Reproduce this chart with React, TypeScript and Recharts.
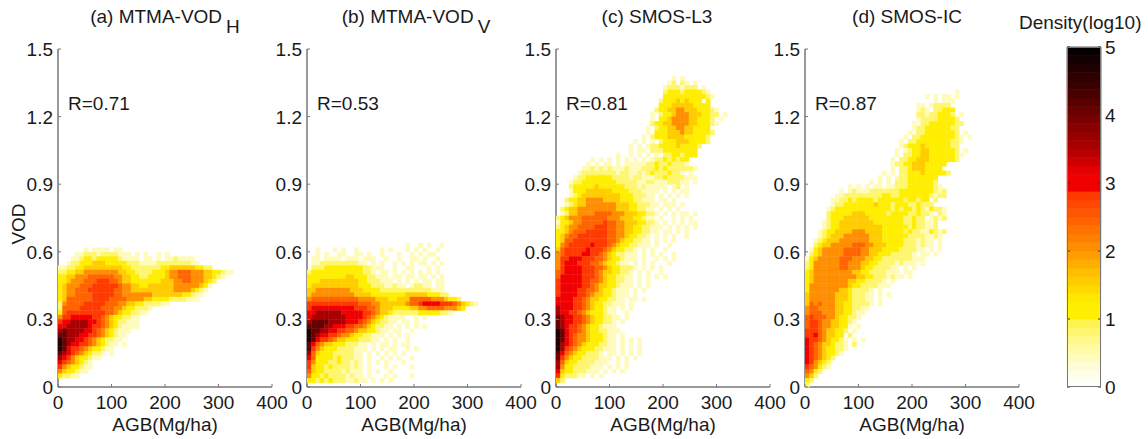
import { Bar, BarChart, Scatter, ScatterChart, XAxis, YAxis } from 'recharts'

// Density grid: one string per VOD row, top row first, last row is VOD 0-0.02.
// "12:345" means the row starts at AGB column 12. Columns are 8 Mg/ha wide.
const AGB_STEP = 8
const VOD_STEP = 0.02

const mtmaHRows = [
  '......1.1111.11',
  '....1122212222111.1.1..1.1',
  '...1123323333321111.11.1.1121111',
  '..1223334443333322211112222222211',
  '112233444444444332222222334444443322',
  '22334455555555443322223334556665554433211',
  '334455566666655443322333345566655544321',
  '3345556667776654433333334445566555432',
  '345556667777776554433444444555555431',
  '34556667777776655444444444455554321',
  '3455666677777665555555444444433211',
  '346666667777666655554433332222111',
  '25666677777666554433222211',
  '2666677777666554332221',
  '367777777776654332211',
  '5778888877654332211',
  '7889999887654322111',
  '8899999877654321111',
  '9a999988765432111',
  'aa99988776543211',
  'ba9988765432211',
  'ba988776543211.1',
  'ba87765433211',
  'a9876543221.1',
  '9875433211',
  '87654321',
  '75433211',
  '5433211',
  '32211',
  '',
  '',
]

const mtmaVRows = [
  '23:1..1.1..1',
  '..1...1.1..1.....1.1...1.1.1..1',
  '..1.1..11..11.1..1...1..1.1.11..',
  '.11.1111.111.111..1..1..11.1..1',
  '.1122222222211.1.1..1.1.1.11.1.1',
  '.22233333333322111..1..11...1.1',
  '2333333333333221.11.1.1.1.1.1.1',
  '3333333334433322111.11.11.11.1.1',
  '33344444444433222111.1.1.1.11.11',
  '34444444444433322211211.12211.11',
  '44555555554443333222222222222111',
  '455555555554444333333334444433322',
  '566666666666555544433444666665554332',
  '7777777777776665544444456678888777654321',
  '7888888888877766544433334455666655543',
  '8899999988888776544322222233333221',
  '89999999988887654321111..1.1',
  '9aaaa9999888765432211.11.1',
  'aaaa9988877665432211.1.1.1.1',
  'baa9988776654433211.11..1',
  'ba9887765543322111.1.1.1',
  'ba877654433322211.1.1..1',
  'a8654433322211.1.11.1.11',
  'a7543332222111.1.1.11..1.1',
  '9643332222211.1.1.1.1.1',
  '8633332322211.1..1.1.1..1',
  '7533322322121.1.1.1...1',
  '7433232222121.1...1.1...1',
  '6433222212111.1.1..1',
  '5332322221211.1...1.1...1',
  '33232322211211.1.1.1',
  '',
]

const smosL3Rows = [
  '27:1.1',
  '26:12.21.1',
  '25:12221222.1',
  '25:23332333321',
  '25:333333333321',
  '24:2333434333.3',
  '24:333444443333',
  '23:233445544433321',
  '22:1.23345554443322.1',
  '22:1.3345555443332.1',
  '22:2334455554433321',
  '21:1.2334455443333',
  '21:1.33344454433332',
  '20:1.23334444333332',
  '18:1.1.1.233344433332',
  '17:1.1.1223333433332',
  '17:1.11.22233333333',
  '14:1..1.1.1.1.22332333',
  '8:1.1.1.1.1.1.1.122323233',
  '7:1.1.11.1.111112232232221',
  '6:112121211121112223232222221',
  '5:1222222221221121232223221.1',
  '4:12233333322221221112232222111',
  '3:1223333333322222112211122211.1',
  '3:23333343333332221211111.12.1',
  '3:133344444433332221111.1.1.11',
  '3:12344444444433322211.1.1.1.1',
  '2:233445555444433322111.11.1',
  '2:1234455555554443322211.111.1',
  '1:2344555555555444332211.1.1.1.',
  '1:12445555666655544433221.1.1.11.1',
  '23455566666655544433211.1..1.1.1',
  '133455666667665544433221.1.1.1.11',
  '2345566667776655443322111.1.1.1.1',
  '334566677777665544332211.11.1.1',
  '3456677777776655433221.1.1.1..1',
  '3466777777776654332211.1.1.1',
  '3567777787776543322111.1..1',
  '4677777877765433221.1.1..1',
  '5677778877654322111.1.1.1..1',
  '5778887776654332111.1..1.1.1',
  '57888777665433211.1.1.1...1',
  '5788887776654332221.1.1.1',
  '678888777654433221.1.1..1',
  '688888777654332211.1.1.1.1',
  '788888776654332211.1.1',
  '788888776544332111.1.1',
  '78888776654332111.1.1',
  '78888776544332111.1',
  '8888776544332211.11.1',
  '8888776543322111.1',
  '98887765433211.1.1',
  '98877654333211..1',
  'a98877654332211.1',
  'a9887765433221.1',
  'a9877654332111',
  'ba8776543322111',
  'ba876554333211.1',
  'ba876554333211.1.1.1',
  'b9876543332211.1.1.1',
  'b9765433322111.1.1.1',
  'a8654332221.11.1.1.1',
  'a754332222111.1.1.1',
  '964332222111..1.1',
  '95332222111.1.1.1',
  '8433222111.1.1.1',
  '7322211.1.1',
  '42',
  '',
]

const smosIcRows = [
  '35:1',
  '28:1.1.11.1',
  '30:1.111',
  '26:11.12222',
  '26:121.22333',
  '26:221223332.1',
  '26:1222233332',
  '25:1.2233333322',
  '25:12233333322',
  '24:1.2233333332.1',
  '23:1.223333333321.1',
  '22:1.2233333333221',
  '22:12333433333322',
  '21:1.1233443333332.1',
  '21:1.22334433333321',
  '20:1.22334443333332',
  '20:1223344433333',
  '20:1.2234443333',
  '18:1.1.223334333332',
  '17:1.1.1223333333',
  '15:1.1.1.2223333332',
  '10:1.1.1.11.1122233333321',
  '8:1.12111222222233333333212',
  '7:11222222222332233333332122',
  '6:11223233332333333233233.2',
  '6:122333333343332333223222',
  '5:1233333333333332323323213221',
  '5:2333334443333323333223221.21',
  '5:23334444443333333322322.1212',
  '4:123344444444333333322322112',
  '4:123344444444443333332322112',
  '3:123344445554444333332322113212',
  '3:12344455555544433333322221121',
  '2:1234445555555444333332221211.1',
  '2:2344555556665544433332221211.1',
  '1:134555556666554443333222211.1.1',
  '1:2345555566665544333222221.11.1',
  '1345555566655544332222222111',
  '23555555665554433222212111.1',
  '2355555566555433222211.1.1',
  '3455555555544332222111.11',
  '34555555555544332221211.1',
  '3455555555443322221.1',
  '35555555554332222111',
  '3555555544322221.1',
  '4555555444322211.1.1',
  '4555555444322211.1',
  '4656555443322221.1',
  '566555544332211',
  '56665554433211',
  '6766655433221',
  '677655443321',
  '67765544331.1',
  '7776544332.1',
  '778654433.2',
  '8776543321.1.1',
  '8765443221.2',
  '8765433221',
  '876543321',
  '8765432',
  '875432',
  '765321',
  '6532',
  '542',
  '32',
  '2',
]

// log10 density for each character used in the rows above
const levelDensity: Record<string, number> = {
  '1': 0.45, '2': 0.8, '3': 1.15, '4': 1.55, '5': 2.0, '6': 2.4,
  '7': 2.75, '8': 3.1, '9': 3.6, a: 4.1, b: 4.7,
}

const bandColors = [
  '#FFFFFA', '#FFFEEA', '#FFFDD5', '#FFFBBC', '#FFFAA3', '#FFF88A', '#FFF670', '#FFF350',
  '#FFF000', '#FFEE00', '#FFE800', '#FFD800', '#FFCC00', '#FFBE00', '#FFAE00', '#FF9E00',
  '#FF8E00', '#FF8000', '#FF7200', '#FF6400', '#FF5600', '#FF4800', '#FF3A00', '#F20000',
  '#F00000', '#E60000', '#CC0000', '#B80000', '#A80000', '#980000', '#880000', '#780000',
  '#680000', '#580000', '#480000', '#3A0000', '#2E0000', '#220000', '#140000', '#060000',
]

const agbTicks = [0, 100, 200, 300, 400]
const vodTicks = [0, 0.3, 0.6, 0.9, 1.2, 1.5]
const colorbarTicks = [0, 1, 2, 3, 4, 5]

const panels = [
  { title: '(a) MTMA-VOD', sub: 'H', r: 'R=0.71', rows: mtmaHRows, left: 58, titleShift: 0 },
  { title: '(b) MTMA-VOD', sub: 'V', r: 'R=0.53', rows: mtmaVRows, left: 307, titleShift: 2 },
  { title: '(c) SMOS-L3', sub: '', r: 'R=0.81', rows: smosL3Rows, left: 556, titleShift: -6 },
  { title: '(d) SMOS-IC', sub: '', r: 'R=0.87', rows: smosIcRows, left: 805, titleShift: -5 },
]

const FONT = '"Liberation Sans", Arial, sans-serif'
const FONT_SIZE = 19
const FRAME = '#777777'
const TEXT = '#1a1a1a'
const PLOT_W = 214
const PLOT_H = 338
const PLOT_TOP = 49
const Y_AXIS_W = 57
const X_AXIS_H = 52
const TOP_PAD = 12
const RIGHT_PAD = 25
const BAND = 5 / bandColors.length

function toCells(rows: string[]) {
  const cells: { agb: number; vod: number; density: number }[] = []
  rows.forEach((raw, i) => {
    const row = rows.length - 1 - i
    const parts = raw.split(':')
    const start = parts.length > 1 ? Number(parts[0]) : 0
    const levels = parts[parts.length - 1]
    for (let c = 0; c < levels.length; c++) {
      const density = levelDensity[levels[c]]
      if (density === undefined) continue
      cells.push({
        agb: (start + c + 0.5) * AGB_STEP,
        vod: (row + 0.5) * VOD_STEP,
        density,
      })
    }
  })
  return cells
}

function colorFor(density: number) {
  return bandColors[Math.min(bandColors.length - 1, Math.floor(density / BAND))]
}

const cellW = (AGB_STEP / 400) * PLOT_W
const cellH = (VOD_STEP / 1.5) * PLOT_H

const DensityCell = (props: any) => (
  <rect
    x={props.cx - cellW / 2}
    y={props.cy - cellH / 2}
    width={cellW + 0.4}
    height={cellH + 0.4}
    fill={colorFor(props.payload.density)}
  />
)

// MATLAB-style ticks point into the box, so they are drawn by the tick renderers
const BottomTick = ({ x, y, payload }: any) => (
  <g>
    <line x1={x} x2={x} y1={y} y2={y - 3} stroke={FRAME} />
    <text x={x} y={y + 22} textAnchor="middle" fontSize={FONT_SIZE} fontFamily={FONT} fill={TEXT}>
      {payload.value}
    </text>
  </g>
)
const TopTick = ({ x, y }: any) => <line x1={x} x2={x} y1={y} y2={y + 3} stroke={FRAME} />
const LeftTick = ({ x, y, payload }: any) => (
  <g>
    <line x1={x} x2={x + 3} y1={y} y2={y} stroke={FRAME} />
    <text x={x - 5} y={y + 7} textAnchor="end" fontSize={FONT_SIZE} fontFamily={FONT} fill={TEXT}>
      {payload.value}
    </text>
  </g>
)
const RightTick = ({ x, y }: any) => <line x1={x} x2={x - 3} y1={y} y2={y} stroke={FRAME} />

const ColorbarTick = ({ x, y, payload }: any) => (
  <g>
    <line x1={x} x2={x - 3} y1={y} y2={y} stroke="#333" />
    <line x1={x - 34} x2={x - 31} y1={y} y2={y} stroke="#333" />
    <text x={x + 4} y={y + 7} fontSize={FONT_SIZE} fontFamily={FONT} fill={TEXT}>
      {payload.value}
    </text>
  </g>
)

const axisLine = { stroke: FRAME, strokeWidth: 1.5 }

function Panel({ panel, first }: { panel: (typeof panels)[number]; first: boolean }) {
  const cells = toCells(panel.rows)
  return (
    <div style={{ position: 'absolute', left: panel.left - Y_AXIS_W, top: PLOT_TOP - TOP_PAD }}>
      <ScatterChart
        width={Y_AXIS_W + PLOT_W + RIGHT_PAD}
        height={TOP_PAD + PLOT_H + X_AXIS_H}
        margin={{ top: TOP_PAD, right: RIGHT_PAD, bottom: 0, left: 0 }}
      >
        <XAxis
          xAxisId="bottom"
          type="number"
          dataKey="agb"
          domain={[0, 400]}
          ticks={agbTicks}
          interval={0}
          height={X_AXIS_H}
          tickSize={0}
          tickMargin={0}
          tickLine={false}
          axisLine={axisLine}
          tick={BottomTick}
          label={{
            value: 'AGB(Mg/ha)',
            position: 'insideBottom',
            offset: 8,
            fontSize: FONT_SIZE,
            fontFamily: FONT,
            fill: TEXT,
          }}
        />
        <XAxis
          xAxisId="top"
          orientation="top"
          type="number"
          domain={[0, 400]}
          ticks={agbTicks}
          interval={0}
          height={0}
          tickSize={0}
          tickMargin={0}
          tickLine={false}
          axisLine={axisLine}
          tick={TopTick}
        />
        <YAxis
          yAxisId="left"
          type="number"
          dataKey="vod"
          domain={[0, 1.5]}
          ticks={vodTicks}
          interval={0}
          width={Y_AXIS_W}
          tickSize={0}
          tickMargin={0}
          tickLine={false}
          axisLine={axisLine}
          tick={LeftTick}
          label={
            first
              ? {
                  value: 'VOD',
                  angle: -90,
                  position: 'insideLeft',
                  offset: 17,
                  dy: 6,
                  textAnchor: 'middle',
                  fontSize: FONT_SIZE,
                  fontFamily: FONT,
                  fill: TEXT,
                }
              : undefined
          }
        />
        <YAxis
          yAxisId="right"
          orientation="right"
          type="number"
          domain={[0, 1.5]}
          ticks={vodTicks}
          interval={0}
          width={0}
          tickSize={0}
          tickMargin={0}
          tickLine={false}
          axisLine={axisLine}
          tick={RightTick}
        />
        <Scatter
          xAxisId="bottom"
          yAxisId="left"
          data={cells}
          shape={DensityCell}
          isAnimationActive={false}
        />
      </ScatterChart>
    </div>
  )
}

function Colorbar() {
  const datum: Record<string, number | string> = { name: 'density' }
  bandColors.forEach((_, i) => {
    datum[`band${i}`] = BAND
  })
  return (
    <div style={{ position: 'absolute', left: 1067 - 5, top: 47 - TOP_PAD }}>
      <BarChart
        width={5 + 34 + 40}
        height={TOP_PAD + 340 + 10}
        data={[datum]}
        barCategoryGap={0}
        margin={{ top: TOP_PAD, right: 40, bottom: 10, left: 5 }}
      >
        <XAxis dataKey="name" hide />
        <YAxis
          type="number"
          orientation="right"
          mirror
          domain={[0, 5]}
          ticks={colorbarTicks}
          interval={0}
          width={40}
          tickSize={0}
          tickMargin={0}
          tickLine={false}
          axisLine={false}
          tick={ColorbarTick}
        />
        {bandColors.map((c, i) => (
          <Bar
            key={c}
            dataKey={`band${i}`}
            stackId="bar"
            fill={c}
            stroke={c}
            strokeWidth={0.6}
            isAnimationActive={false}
          />
        ))}
      </BarChart>
      <div
        style={{
          position: 'absolute',
          left: 5,
          top: TOP_PAD,
          width: 34,
          height: 340,
          boxSizing: 'border-box',
          border: `1px solid ${FRAME}`,
        }}
      />
    </div>
  )
}

export default function App() {
  return (
    <div
      style={{
        position: 'absolute',
        left: 0,
        top: 0,
        width: 1148,
        height: 439,
        overflow: 'hidden',
        background: '#fff',
        fontFamily: FONT,
        color: TEXT,
      }}
    >
      {panels.map((p, i) => (
        <div key={p.title + p.sub}>
          <Panel panel={p} first={i === 0} />
          <div
            style={{
              position: 'absolute',
              left: p.left + p.titleShift,
              width: PLOT_W,
              top: 6,
              textAlign: 'center',
              fontSize: FONT_SIZE,
              whiteSpace: 'nowrap',
            }}
          >
            {p.title}
            {p.sub && (
              <span style={{ position: 'relative', top: 10, left: 4, marginRight: 4 }}>{p.sub}</span>
            )}
          </div>
          <div style={{ position: 'absolute', left: p.left + 10, top: 93, fontSize: FONT_SIZE }}>{p.r}</div>
        </div>
      ))}
      <Colorbar />
      <div style={{ position: 'absolute', left: 1019, top: 12, fontSize: FONT_SIZE, whiteSpace: 'nowrap' }}>
        Density(log10)
      </div>
    </div>
  )
}
